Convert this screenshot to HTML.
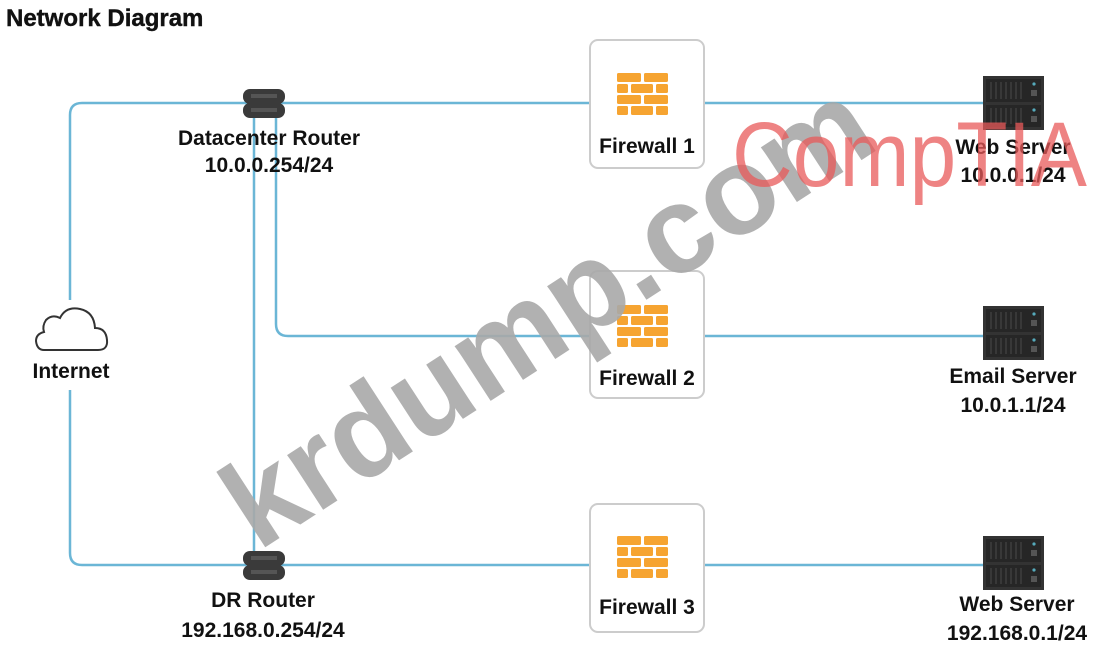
<!DOCTYPE html>
<html><head><meta charset="utf-8"><style>
body{margin:0;background:#fff;}
svg{display:block;}
text{font-family:"Liberation Sans",Arial,sans-serif;font-weight:bold;fill:#111;}
</style></head><body>
<svg width="1100" height="651" viewBox="0 0 1100 651" xmlns="http://www.w3.org/2000/svg">
<defs>
<g id="fw">
 <rect x="0" y="0" width="51" height="42" fill="#fff"/>
 <g fill="#f6a431">
  <rect x="0" y="0" width="24" height="9" rx="1.5"/><rect x="27" y="0" width="24" height="9" rx="1.5"/>
  <rect x="0" y="11" width="11" height="9" rx="1.5"/><rect x="14" y="11" width="22" height="9" rx="1.5"/><rect x="39" y="11" width="12" height="9" rx="1.5"/>
  <rect x="0" y="22" width="24" height="9" rx="1.5"/><rect x="27" y="22" width="24" height="9" rx="1.5"/>
  <rect x="0" y="33" width="11" height="9" rx="1.5"/><rect x="14" y="33" width="22" height="9" rx="1.5"/><rect x="39" y="33" width="12" height="9" rx="1.5"/>
 </g>
</g>
<g id="srv">
 <rect x="0" y="0" width="61" height="54" fill="#333"/>
 <rect x="3" y="3" width="55" height="23" fill="#262626"/>
 <rect x="3" y="29" width="55" height="22" fill="#262626"/>
 <g stroke="#4a4a4a" stroke-width="1">
  <path d="M8 6v17M13 6v17M18 6v17M23 6v17M28 6v17M33 6v17M38 6v17M8 32v16M13 32v16M18 32v16M23 32v16M28 32v16M33 32v16M38 32v16"/>
 </g>
 <circle cx="51" cy="8" r="1.6" fill="#5ab"/><circle cx="51" cy="34" r="1.6" fill="#5ab"/>
 <rect x="48" y="14" width="6" height="6" fill="#555"/><rect x="48" y="40" width="6" height="6" fill="#555"/>
</g>
<g id="rtr">
 <rect x="0" y="0" width="42" height="15" rx="7" fill="#3a3a3a"/>
 <rect x="0" y="14" width="42" height="15" rx="7" fill="#3a3a3a"/>
 <rect x="8" y="5" width="26" height="4" fill="#555"/><rect x="8" y="19" width="26" height="4" fill="#555"/>
</g>
</defs>

<text x="6" y="26" font-size="24" style="stroke:#111;stroke-width:0.4">Network Diagram</text>

<g fill="none" stroke="#6bb6d6" stroke-width="2.5">
 <path d="M70 300 V115 Q70 103 82 103 H985"/>
 <path d="M70 390 V553 Q70 565 82 565 H985"/>
 <path d="M254 115 V565"/>
 <path d="M276 115 V324 Q276 336 288 336 H985"/>
</g>

<use href="#rtr" x="243" y="89"/>
<use href="#rtr" x="243" y="551"/>

<g fill="#fff" stroke="#ccc" stroke-width="2">
 <rect x="590" y="40" width="114" height="128" rx="8"/>
 <rect x="590" y="271" width="114" height="127" rx="8"/>
 <rect x="590" y="504" width="114" height="128" rx="8"/>
</g>
<use href="#fw" x="617" y="73"/>
<use href="#fw" x="617" y="305"/>
<use href="#fw" x="617" y="536"/>
<text x="647" y="153" font-size="21" text-anchor="middle">Firewall 1</text>
<text x="647" y="385" font-size="21" text-anchor="middle">Firewall 2</text>
<text x="647" y="614" font-size="21" text-anchor="middle">Firewall 3</text>

<use href="#srv" x="983" y="76"/>
<use href="#srv" x="983" y="306"/>
<use href="#srv" x="983" y="536"/>

<path d="M44 350 H98 Q108 350 107 340 Q106 328 95 328 Q94 312 80 309 Q66 306 60 318 Q52 314 46 320 Q42 326 44 332 Q36 334 36 341 Q37 350 44 350 Z" fill="#fff" stroke="#333" stroke-width="2"/>
<text x="71" y="378" font-size="21" text-anchor="middle">Internet</text>

<text x="269" y="145" font-size="21" text-anchor="middle">Datacenter Router</text>
<text x="269" y="172" font-size="21" text-anchor="middle">10.0.0.254/24</text>
<text x="263" y="607" font-size="21" text-anchor="middle">DR Router</text>
<text x="263" y="637" font-size="21" text-anchor="middle">192.168.0.254/24</text>

<text x="1013" y="154" font-size="21" text-anchor="middle">Web Server</text>
<text x="1013" y="182" font-size="21" text-anchor="middle">10.0.0.1/24</text>
<text x="1013" y="383" font-size="21" text-anchor="middle">Email Server</text>
<text x="1013" y="412" font-size="21" text-anchor="middle">10.0.1.1/24</text>
<text x="1017" y="611" font-size="21" text-anchor="middle">Web Server</text>
<text x="1017" y="640" font-size="21" text-anchor="middle">192.168.0.1/24</text>

<text x="0" y="0" font-size="124" transform="translate(258,552) rotate(-33)" style="fill:#a8a8a8;fill-opacity:0.9">krdump.com</text>
<text x="732" y="186" font-size="92" style="font-weight:normal;fill:#e85a5a;fill-opacity:0.75" textLength="355" lengthAdjust="spacingAndGlyphs">CompTIA</text>
</svg>
</body></html>
